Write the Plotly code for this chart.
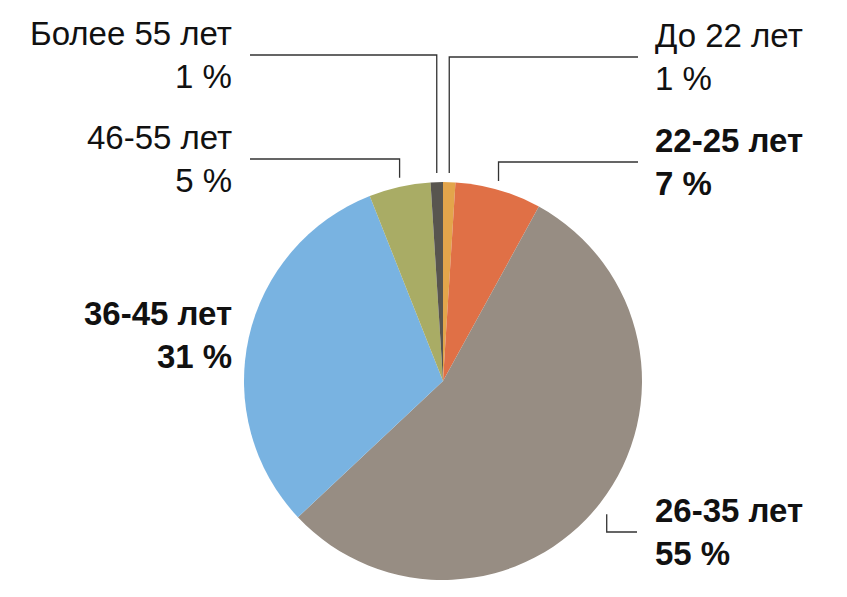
import math
import plotly.graph_objects as go

# ---- data ----
categories = ["До 22 лет", "22-25 лет", "26-35 лет", "36-45 лет", "46-55 лет", "Более 55 лет"]
values = [1, 7, 55, 31, 5, 1]
colors = ["#E3A54B", "#E07046", "#978D83", "#79B3E1", "#A9AC65", "#58554F"]
bold = [False, True, True, True, False, False]

# ---- layout constants (page pixels) ----
W, H = 847, 597
OFF = 8  # page offset of the figure (browser body margin)
CX, CY, R = 443, 381, 199
FONT = "Liberation Sans, Arial, Helvetica, sans-serif"
FS = 33
LINE_COLOR = "#333333"

# label anchor placement: (side, label y, leader style)
label_layout = {
    "До 22 лет": ("right", 57, "top"),
    "22-25 лет": ("right", 162, "top"),
    "26-35 лет": ("right", 532, "elbow"),
    "36-45 лет": ("left", 335, None),
    "46-55 лет": ("left", 159, "top"),
    "Более 55 лет": ("left", 55, "top"),
}
LEFT_TEXT_X, RIGHT_TEXT_X = 234, 653
LEFT_LINE_X, RIGHT_LINE_X = 250, 638

fig = go.Figure()
fig.add_trace(go.Pie(
    labels=categories, values=values, sort=False, direction="clockwise", rotation=0,
    marker=dict(colors=colors, line=dict(width=0)), textinfo="none", hoverinfo="label+percent",
    showlegend=False,
    domain=dict(x=[(CX - OFF - R) / W, (CX - OFF + R) / W],
                y=[1 - (CY - OFF + R) / H, 1 - (CY - OFF - R) / H]),
))

total = sum(values)
cum = 0
annotations = []
for cat, v, b in zip(categories, values, bold):
    mid = (cum + v / 2) / total * 2 * math.pi
    cum += v
    side, ly, style = label_layout[cat]
    sx, cy_ = math.sin(mid), math.cos(mid)
    if style == "top":
        px = CX + R * sx
        py_edge = CY - R * cy_
        lx = RIGHT_LINE_X if side == "right" else LEFT_LINE_X
        xs, ys = [lx, px, px], [ly, ly, py_edge - 9]
    elif style == "elbow":
        px = CX + (R + 12) * sx
        py = CY - (R + 12) * cy_
        xs, ys = [px - 3, px - 3, RIGHT_LINE_X - 1], [py + 4, ly, ly]
    else:
        xs, ys = None, None
    if xs:
        fig.add_trace(go.Scatter(x=xs, y=ys, mode="lines", line=dict(color=LINE_COLOR, width=1.3),
                                 hoverinfo="skip", showlegend=False, xaxis="x", yaxis="y"))
    txt = f"{cat}<br>{v} %"
    if b:
        txt = f"<b>{cat}</b><br><b>{v} %</b>"
    annotations.append(dict(
        x=RIGHT_TEXT_X if side == "right" else LEFT_TEXT_X, y=ly, xref="x", yref="y",
        text=txt, showarrow=False, xanchor="left" if side == "right" else "right",
        yanchor="middle", align="left" if side == "right" else "right",
        font=dict(family=FONT, size=FS, color="#111111"),
    ))

fig.update_layout(
    width=W, height=H, margin=dict(l=0, r=0, t=0, b=0),
    paper_bgcolor="white", plot_bgcolor="rgba(0,0,0,0)",
    xaxis=dict(range=[OFF, W + OFF], visible=False, fixedrange=True),
    yaxis=dict(range=[H + OFF, OFF], visible=False, fixedrange=True),
    annotations=annotations,
)

fig.write_html("out.html")
